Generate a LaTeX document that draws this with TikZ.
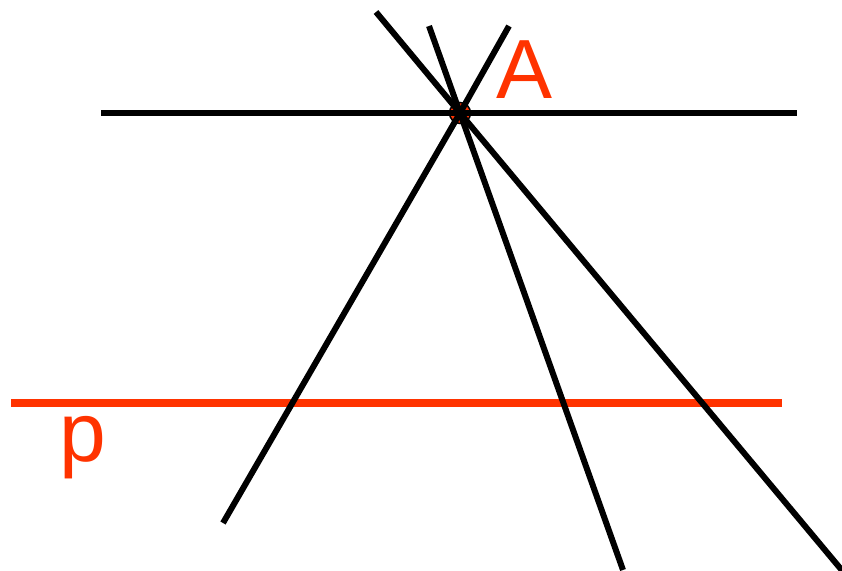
\documentclass[tikz,border=0pt]{standalone}
\usepackage{fontspec}
\setmainfont{Liberation Sans}
\definecolor{pointred}{HTML}{FF3300}
\usetikzlibrary{positioning}

\begin{document}
\begin{tikzpicture}[
    x=1pt, y=-1pt,
    ln/.style={line width=6pt, black},
    pline/.style={line width=7.5pt, pointred},
    lbl/.style={text=pointred, inner sep=0pt, font=\fontsize{84}{84}\selectfont},
    dot/.style={circle, draw=black, fill=pointred, line width=1.5pt,
        minimum size=21pt, inner sep=0pt}
]
\useasboundingbox (0,0) rectangle (842,570);

% the point and its name
\node[dot] (pt) at (460,113) {};
\node[lbl] (A) at (525,70) {A};

% end points of the lines
\coordinate (hL) at (101,113);  \coordinate (hR) at (797,113);
\coordinate (pL) at (11,403);   \coordinate (pR) at (782,403);
\coordinate (aT) at (376,12);   \coordinate (aB) at (845,574);
\coordinate (bT) at (429,26);   \coordinate (bB) at (623,570);
\coordinate (cT) at (509,26);   \coordinate (cB) at (223,523);

% line p
\draw[pline] (pL) -- (pR);
\node[lbl] (p) at (83,448) {p};

% lines through A
\draw[ln] (hL) -- (hR);
\draw[ln] (aT) -- (pt.center) -- (aB);
\draw[ln] (bT) -- (pt.center) -- (bB);
\draw[ln] (cT) -- (pt.center) -- (cB);
\end{tikzpicture}
\end{document}
